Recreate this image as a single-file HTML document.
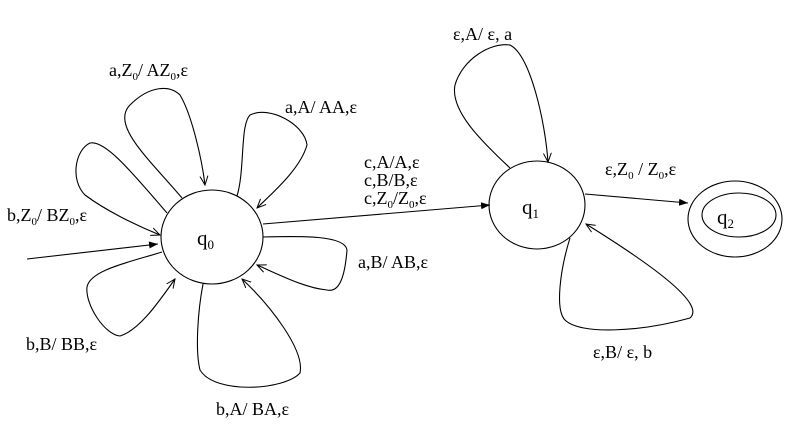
<!DOCTYPE html><html><head><style>body{margin:0;background:#fff}svg{display:block}text{font-family:"Liberation Serif",serif;font-size:18px;fill:#000}.s{font-size:11px}.q{font-size:21px}.qs{font-size:13px}</style></head><body>
<svg width="794" height="424" viewBox="0 0 794 424">
<defs><marker id="a" markerWidth="10" markerHeight="10" refX="9" refY="5" orient="auto" markerUnits="userSpaceOnUse"><path d="M0,1 L9,5 L0,9" fill="none" stroke="#000"/></marker>
<marker id="f" markerWidth="10" markerHeight="10" refX="9" refY="5" orient="auto" markerUnits="userSpaceOnUse"><path d="M0,1.5 L9,5 L0,8.5Z" fill="#000"/></marker></defs>
<g fill="none" stroke="#000" stroke-width="1.1">
<ellipse cx="212" cy="237" rx="51" ry="47"/>
<ellipse cx="537" cy="205" rx="48" ry="44"/>
<ellipse cx="735" cy="219" rx="47" ry="38"/>
<ellipse cx="739" cy="215" rx="37" ry="22"/>
<path d="M27,259 L158,244" marker-end="url(#f)"/>
<path d="M263,224 L490,205" marker-end="url(#f)"/>
<path d="M585,194 L688,203" marker-end="url(#f)"/>
<path d="M182,198 C150,160 110,125 130,105 C150,85 170,85 180,95 C192,115 202,160 205,185" marker-end="url(#a)"/>
<path d="M237,196 C245,170 240,125 250,115 C270,105 305,125 307,145 C300,170 270,195 257,208" marker-end="url(#a)"/>
<path d="M167,213 C130,170 105,140 90,143 C75,150 70,180 85,195 C105,210 135,225 160,235" marker-end="url(#a)"/>
<path d="M162,252 C130,262 90,270 87,287 C85,305 105,335 120,336 C140,330 160,300 175,279" marker-end="url(#a)"/>
<path d="M203,284 C198,310 195,350 200,370 C215,395 285,390 300,373 C305,350 270,305 242,279" marker-end="url(#a)"/>
<path d="M263,237 C300,236 345,235 347,250 C345,275 340,293 327,290 C305,288 280,275 257,265" marker-end="url(#a)"/>
<path d="M510,168 C480,140 450,110 455,85 C462,60 490,42 510,45 C530,55 545,120 548,162" marker-end="url(#a)"/>
<path d="M570,238 C560,270 555,310 565,320 C580,335 640,332 690,318 C705,305 660,270 586,224" marker-end="url(#a)"/>
</g>
<text class="q" x="197" y="245">q<tspan class="qs" dy="4">0</tspan></text>
<text class="q" x="522" y="214">q<tspan class="qs" dy="4">1</tspan></text>
<text class="q" x="717" y="224">q<tspan class="qs" dy="4">2</tspan></text>
<text x="109" y="76">a,Z<tspan class="s" dy="4">0</tspan><tspan dy="-4">/ AZ</tspan><tspan class="s" dy="4">0</tspan><tspan dy="-4">,ε</tspan></text>
<text x="285" y="113">a,A/ AA,ε</text>
<text x="364" y="168">c,A/A,ε</text>
<text x="364" y="186">c,B/B,ε</text>
<text x="364" y="204">c,Z<tspan class="s" dy="4">0</tspan><tspan dy="-4">/Z</tspan><tspan class="s" dy="4">0</tspan><tspan dy="-4">,ε</tspan></text>
<text x="7" y="221">b,Z<tspan class="s" dy="4">0</tspan><tspan dy="-4">/ BZ</tspan><tspan class="s" dy="4">0</tspan><tspan dy="-4">,ε</tspan></text>
<text x="358" y="268">a,B/ AB,ε</text>
<text x="26" y="350">b,B/ BB,ε</text>
<text x="216" y="415">b,A/ BA,ε</text>
<text x="453" y="40">ε,A/ ε, a</text>
<text x="605" y="175">ε,Z<tspan class="s" dy="4">0</tspan><tspan dy="-4"> / Z</tspan><tspan class="s" dy="4">0</tspan><tspan dy="-4">,ε</tspan></text>
<text x="593" y="358">ε,B/ ε, b</text>
</svg></body></html>
